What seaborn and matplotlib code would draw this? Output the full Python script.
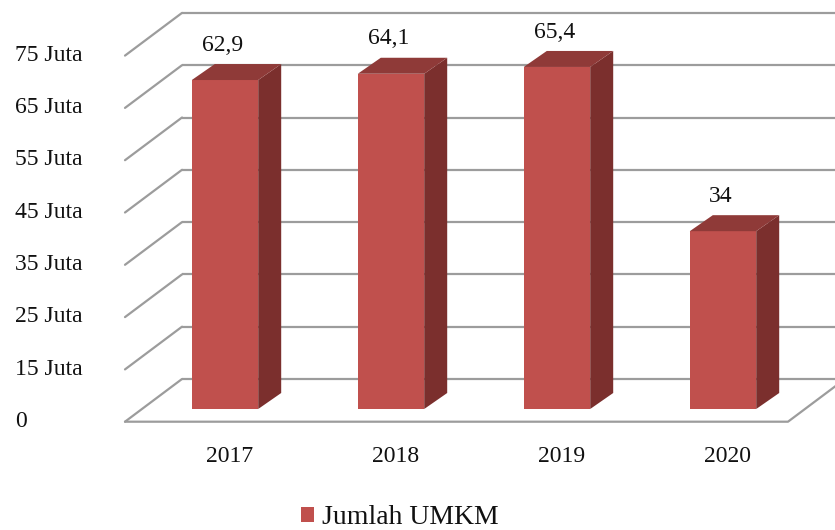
import numpy as np
import pandas as pd
import matplotlib
matplotlib.use("Agg")
import matplotlib.pyplot as plt
from matplotlib.patches import Polygon, Patch
import seaborn as sns

# ---- data ----
years = ["2017", "2018", "2019", "2020"]
values = [62.9, 64.1, 65.4, 34]
value_labels = ["62,9", "64,1", "65,4", "34"]
grid_values = [0, 10, 20, 30, 40, 50, 60, 70]
y_ticklabels = ["0", "15 Juta", "25 Juta", "35 Juta", "45 Juta", "55 Juta", "65 Juta", "75 Juta"]
series_name = "Jumlah UMKM"

# ---- style ----
FRONT = "#C0504D"
TOP = "#8F3A38"
SIDE = "#7B2F2D"
GRID = "#9c9c9c"
FS = 17

sns.set_theme(style="white")
plt.rcParams["font.family"] = ["Liberation Serif", "DejaVu Serif"]

W, H, DPI = 835, 530, 100
fig = plt.figure(figsize=(W / DPI, H / DPI), dpi=DPI)
ax = fig.add_axes([15 / W, 1 - 440 / H, 820 / W, 440 / H])

df = pd.DataFrame({"Tahun": years, "Jumlah": values})
sns.barplot(data=df, x="Tahun", y="Jumlah", color=FRONT, saturation=1,
            width=0.4, linewidth=0, ax=ax, zorder=3)

# 3D geometry (in data units)
px_x = 166.0      # pixels per category
px_y = 5.23       # pixels per value unit
ddx, ddy = 23 / px_x, 16 / px_y          # bar depth
back_off = 30 / px_y                      # back wall floor offset
front_off = -12.7 / px_y                  # front floor offset
wall_dx = 57 / px_x                       # diagonal of the wall
left_front_x = (125 - 225) / px_x
right_front_x = (788 - 225) / px_x

# back wall gridlines + left diagonals
for v in grid_values:
    ax.plot([left_front_x + wall_dx, 10], [v + back_off, v + back_off],
            color=GRID, lw=1.6, zorder=1, solid_capstyle="butt")
    ax.plot([left_front_x, left_front_x + wall_dx], [v + front_off, v + back_off],
            color=GRID, lw=1.6, zorder=1)
# floor front edge and right diagonal
ax.plot([left_front_x, right_front_x, right_front_x + wall_dx],
        [front_off, front_off, back_off], color=GRID, lw=1.6, zorder=1)

# side and top faces derived from seaborn's bars
for p, lab in zip(ax.patches, value_labels):
    x0 = p.get_x()
    w = p.get_width()
    h = p.get_height()
    x1 = x0 + w
    side = Polygon([(x1, 0), (x1 + ddx, ddy), (x1 + ddx, h + ddy), (x1, h)],
                   closed=True, facecolor=SIDE, edgecolor="none", zorder=3)
    top = Polygon([(x0, h), (x1, h), (x1 + ddx, h + ddy), (x0 + ddx, h + ddy)],
                  closed=True, facecolor=TOP, edgecolor="none", zorder=3)
    ax.add_patch(side)
    ax.add_patch(top)
    ax.annotate(lab, (x0 + w / 2 - 0.015, h + ddy), xytext=(0, 6),
                textcoords="offset points", ha="center", va="bottom",
                fontsize=FS, color="#111111")

ax.set_xlim((15 - 225) / px_x, (835 - 225) / px_x)
ax.set_ylim((409 - 440) / px_y, 409 / px_y)

ax.set_yticks([v - 1.9 for v in grid_values])
ax.set_yticklabels(y_ticklabels, fontsize=FS, color="#111111")
for t in ax.get_yticklabels():
    t.set_horizontalalignment("left")
ax.tick_params(axis="y", length=0, pad=0)

ax.set_xticks([i + 0.03 for i in range(len(years))])
ax.set_xticklabels(years, fontsize=FS, color="#111111")
ax.tick_params(axis="x", length=0, pad=4)
ax.set_xlabel("")
ax.set_ylabel("")
for s in ax.spines.values():
    s.set_visible(False)

fig.legend(handles=[Patch(facecolor=FRONT, edgecolor="none", label=series_name)],
           loc="center", bbox_to_anchor=(400 / W, 1 - 518 / H), frameon=False,
           fontsize=20, handlelength=0.47, handleheight=0.47, handletextpad=0.3,
           borderpad=0, labelcolor="#111111")

fig.savefig("out.png", dpi=DPI)
